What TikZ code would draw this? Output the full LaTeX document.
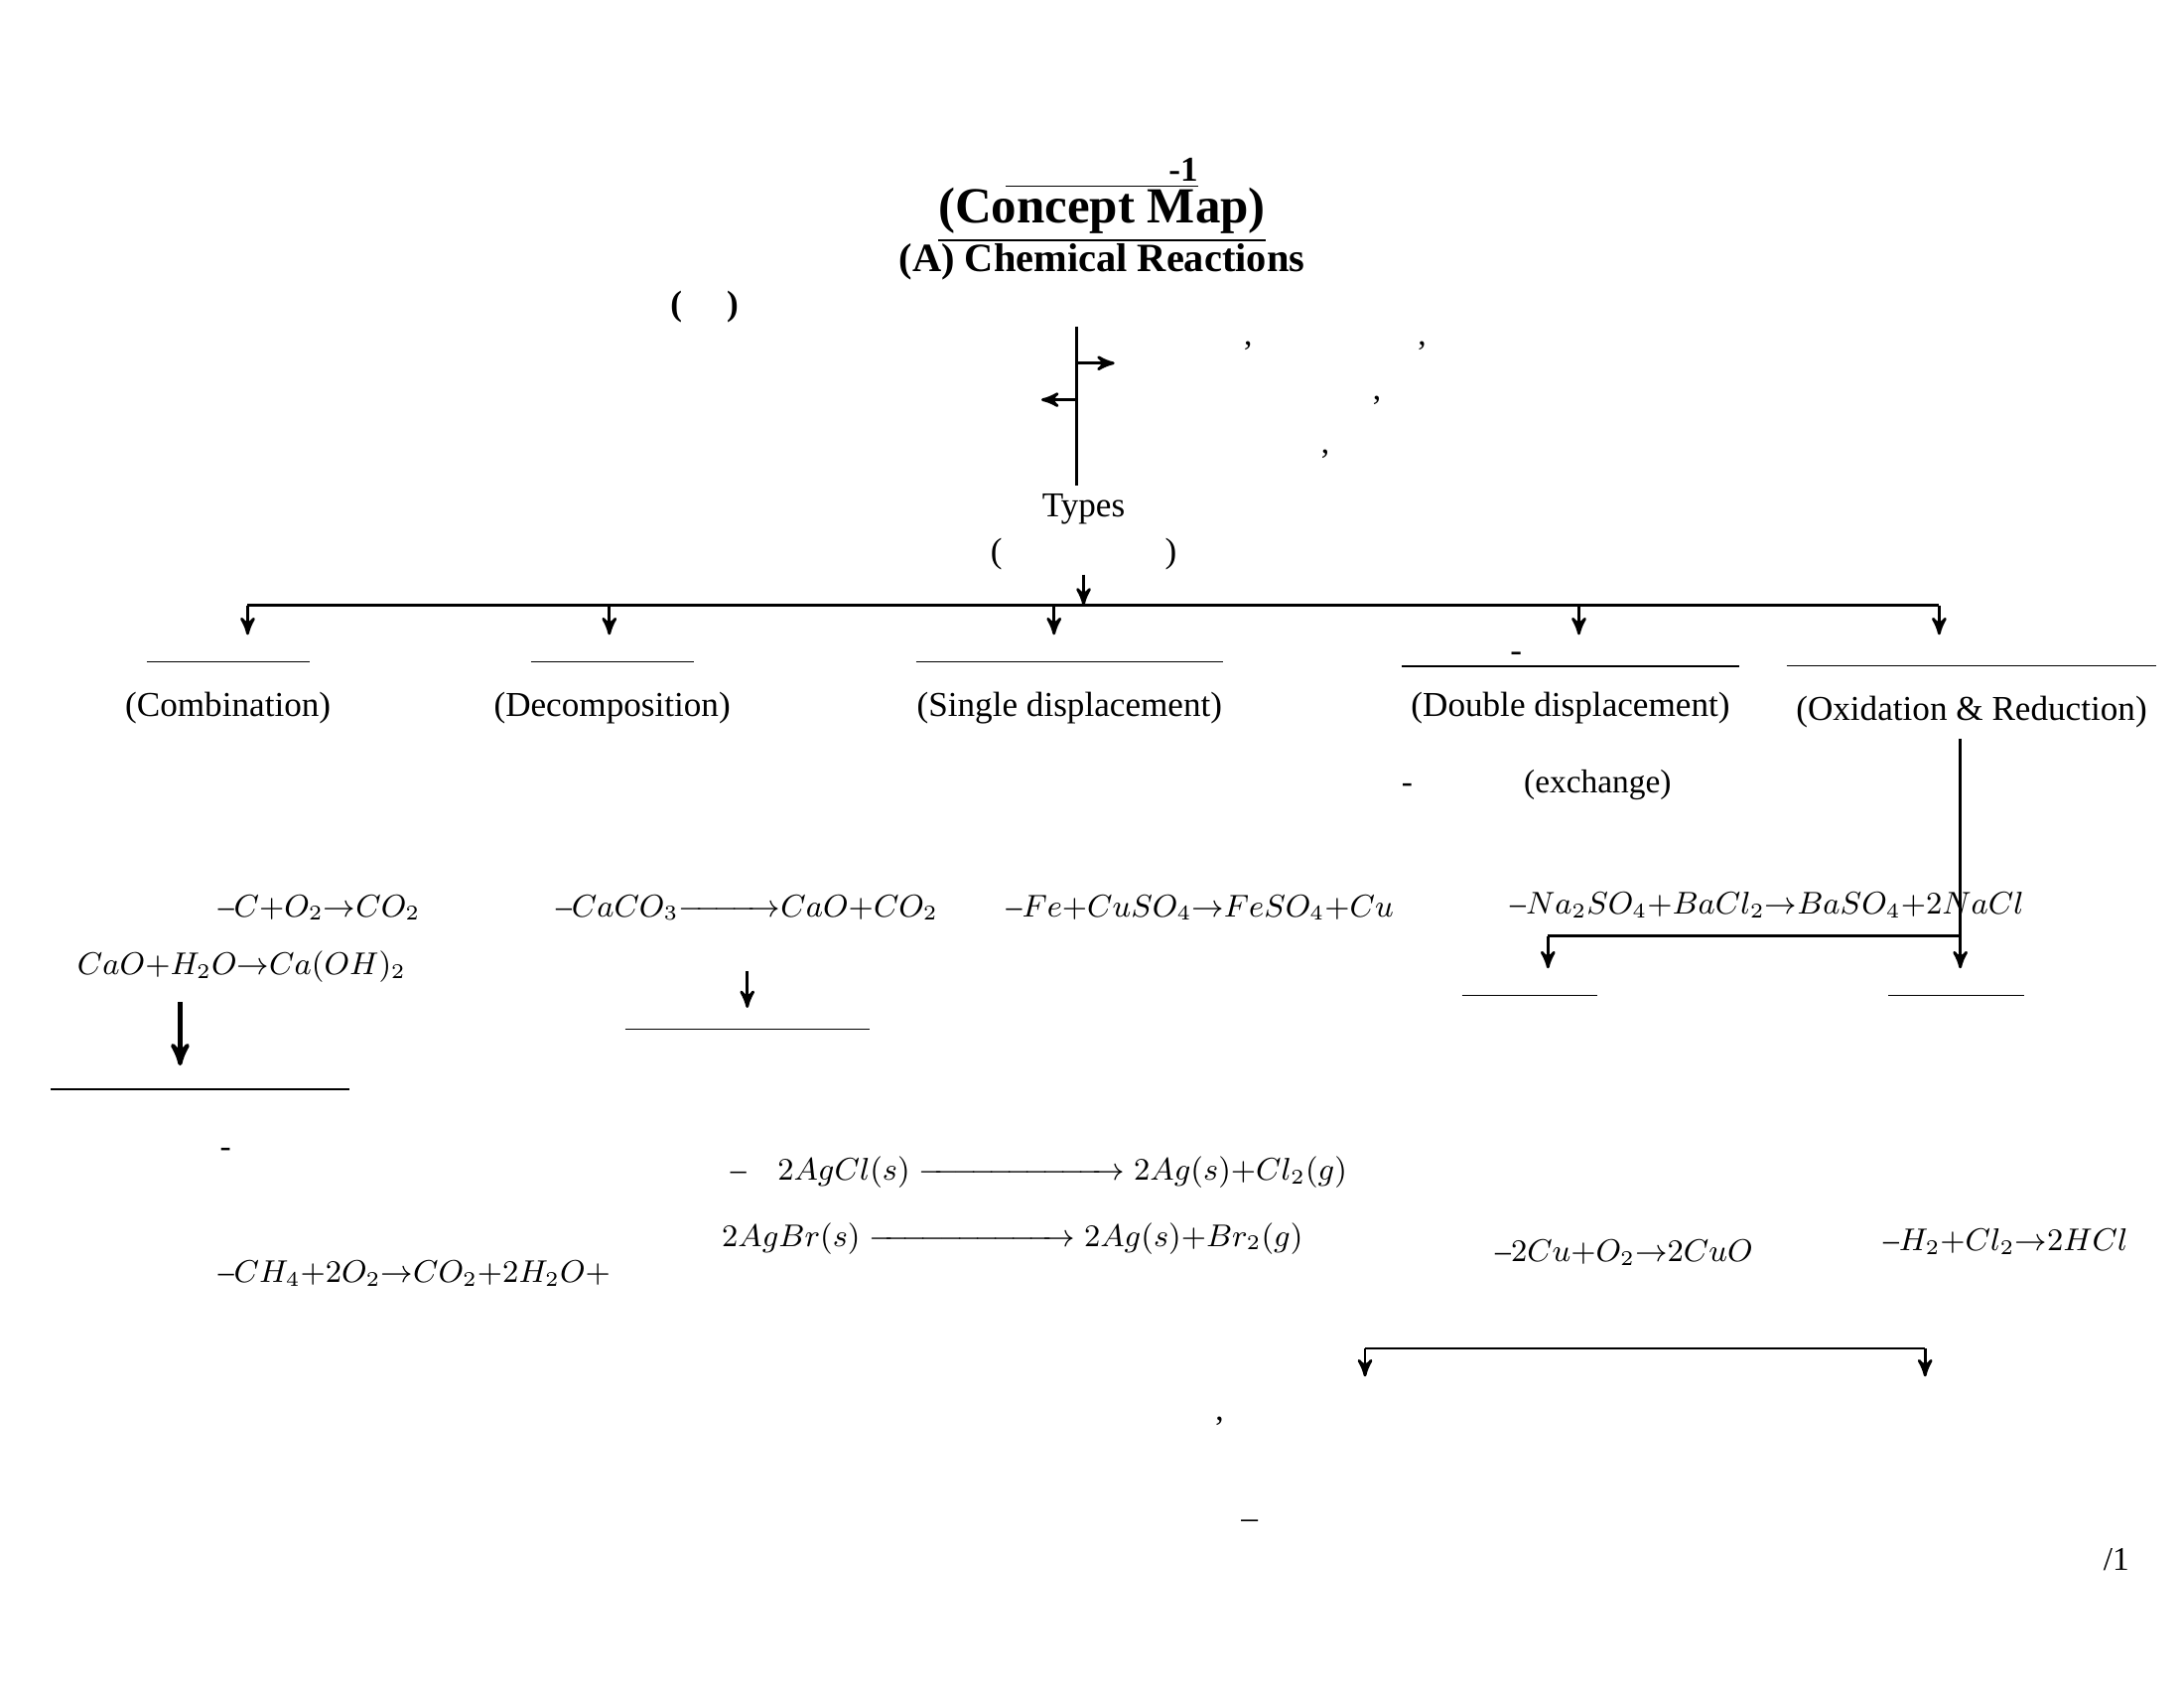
\documentclass[tikz,border=0pt]{standalone}
\usepackage{fontspec}
\setmainfont{Liberation Serif}
\usepackage{amsmath}
\usetikzlibrary{positioning, calc, arrows}

\tikzset{
    txt/.style={align=center, font=\fontsize{9.5}{15.5}\selectfont, inner sep=1pt},
    eqn/.style={txt, font=\fontsize{9}{11}\selectfont},
    head/.style={txt, font=\fontsize{10}{12}\selectfont\bfseries},
    sub/.style={txt, font=\fontsize{10}{12}\selectfont},
    arr/.style={->, >=stealth', thick},
    line/.style={thick}
}
\newcommand{\ul}[1]{\underline{#1}}

\begin{document}
\begin{tikzpicture}[x=0.01418cm, y=-0.01418cm]
    \useasboundingbox (0,0) rectangle (1552,1200);
    % title
    \node[head] (ch) at (783,123) {\ul{अध्याय-1}};
    \node[txt, font=\fontsize{14.5}{16}\selectfont\bfseries] (cm) at (783,153) {\ul{(Concept Map)}};
    \node[head, font=\fontsize{11.5}{13}\selectfont\bfseries] (cr) at (783,186) {(A) Chemical Reactions};
    \node[head] (rs) at (783,218) {( अ ) रासायनिक अभिक्रियाएँ एवं समीकरण};
    \coordinate (top) at (765,232);
    \coordinate (bot) at (765,345);
    \draw[line] (top) -- (bot);
    \coordinate (r0) at (765,258); \coordinate (r1) at (792,258);
    \coordinate (l0) at (765,284); \coordinate (l1) at (740,284);
    \draw[arr] (r0) -- (r1);
    \draw[arr] (l0) -- (l1);
    \node[txt, text width=6.6cm, anchor=north west, align=justify] (def) at (252,240)
        {जब कोई पदार्थ अकेले या किसी दूसरे पदार्थ के साथ क्रिया करके एक या एक से अधिक भिन्न गुण धर्म वाले नए पदार्थ का निर्माण करते हैं।};
    \node[txt, text width=5.3cm, align=left, anchor=north west] (sig) at (826,240)
        {रंग, अवस्था, ताप में परिवर्तन, गैस का निकलना,\\ अवक्षेप का बनना।};
    \node[sub] (ty) at (770,362) {Types};
    \node[sub] (pr) at (770,394) {(प्रकार)};
    \coordinate (pt) at (770,430);
    \draw[arr] (pr) -- (pt);
    % branches
    \coordinate (hl) at (176,430); \coordinate (hr) at (1378,430);
    \draw[line] (hl) -- (hr);
    \foreach \x/\n in {176/a, 433/b, 749/c, 1122/d, 1378/e} {
        \coordinate (s\n) at (\x,430);
        \coordinate (t\n) at (\x,451);
        \draw[arr] (s\n) -- (t\n);
    }
    \foreach \x/\n/\H/\E in {162/a/संयोजन/Combination, 435/b/वियोजन/Decomposition,
                              760/c/एकल विस्थापन/Single displacement, 1116/d/द्वि-विस्थापन/Double displacement} {
        \node[sub] (h\n) at (\x,469) {\ul{\H}};
        \node[sub] (e\n) at (\x,503) {(\E)};
    }
    \node[sub] (he) at (1401,472) {\ul{उपचयन एवं अपचयन}};
    \node[sub] (ee) at (1401,506) {(Oxidation \& Reduction)};
    \node[txt, below=2pt of ea] (da) {जब दो या दो से अधिक\\ पदार्थ संयोग करके नए\\ पदार्थ का निर्माण करते हैं।};
    \node[txt, below=2pt of eb] (db) {जब एक पदार्थ टूट कर दो\\ या दो से अधिक नए\\ पदार्थो का निर्माण करते हैं।};
    \node[txt, below=2pt of ec] (dc) {जब कोई तत्व दूसरे तत्व को उसके\\ यौगिक के विलयन से विस्थापित कर\\ खुद उसका स्थान ले लेता है।};
    \node[txt, below=2pt of ed] (dd) {जब दो यौगिक अपने आयनों की\\ अदला-बदली (exchange) करके दो\\ नए यौगिकों का निर्माण करते हैं।};
    % equations
    \node[eqn, anchor=west] (qa) at (48,645) {उदाहरण–$C{+}O_2{\rightarrow}CO_2$};
    \node[eqn, anchor=west] (qa2) at (52,687) {$CaO{+}H_2O{\rightarrow}Ca(OH)_2$};
    \node[txt, anchor=west] (bj) at (145,721) {बुझा हुआ चूना};
    \coordinate (xa) at (128,712); \coordinate (ya) at (128,757);
    \draw[arr, very thick] (xa) -- (ya);
    \node[head] (ua) at (142,773) {\ul{ऊष्माक्षेपी}};
    \node[txt, below=1pt of ua] (ta) {वैसी अभिक्रिया जिसमें उत्पाद के\\ निर्माण के साथ-साथ ऊष्मा भी\\ उत्पन्न होती है।};
    \node[eqn, anchor=west] (qa3) at (48,905) {उदाहरण–$CH_4{+}2O_2{\rightarrow}CO_2{+}2H_2O{+}$ऊष्मा};
    \node[eqn, anchor=west] (qb) at (288,645) {उदाहरण–$CaCO_3{\xrightarrow{\text{ऊष्मा}}}CaO{+}CO_2$};
    \node[txt] (kc) at (536,676) {कली चूना};
    \coordinate (xb) at (531,690); \coordinate (yb) at (531,716);
    \draw[arr] (xb) -- (yb);
    \node[head] (ub) at (531,730) {\ul{ऊष्माशोषी}};
    \node[txt, below=1pt of ub] (tb) {वैसी अभिक्रिया जिसमें ऊष्मा का\\ अवशोषण होता है।};
    \node[eqn, anchor=west] (qb2) at (412,833) {उदाहरण–\quad $2AgCl(s)\xrightarrow{\text{\tiny सूर्य का प्रकाश}}2Ag(s){+}Cl_2(g)$};
    \node[eqn, anchor=west] (qb3) at (510,880) {$2AgBr(s)\xrightarrow{\text{\tiny सूर्य का प्रकाश}}2Ag(s){+}Br_2(g)$};
    \node[eqn, anchor=west] (qc) at (608,645) {उदाहरण–$Fe{+}CuSO_4{\rightarrow}FeSO_4{+}Cu$};
    \node[eqn, anchor=west] (qd) at (966,643) {उदाहरण–$Na_2SO_4{+}BaCl_2{\rightarrow}BaSO_4{+}2NaCl$};
    % oxidation / reduction
    \coordinate (o0) at (1393,525); \coordinate (o1) at (1393,665);
    \coordinate (o2) at (1100,665); \coordinate (o3) at (1100,688);
    \coordinate (o4) at (1393,688);
    \draw[line] (o0) -- (o1) -- (o2);
    \draw[arr] (o2) -- (o3);
    \draw[arr] (o1) -- (o4);
    \node[head] (uo) at (1087,706) {\ul{उपचयन}};
    \node[txt, below=1pt of uo] (to) {जिसमें किसी तत्व या यौगिक\\ के साथ ऑक्सीजन का संयोग\\ होता है अथवा हाईड्रोजन का\\ ह्रास होता है।};
    \node[eqn] (qo) at (1102,890) {उदाहरण–$2Cu{+}O_2{\rightarrow}2CuO$};
    \node[head] (ur) at (1390,706) {\ul{अपचयन}};
    \node[txt, below=1pt of ur] (tr) {जिसमें किसी तत्व या\\ यौगिक के साथ हाइड्रोजन\\ का योग होता है अथवा\\ ऑक्सीजन का ह्रास होता है।};
    \node[eqn, anchor=east] (qr) at (1515,882) {उदाहरण–$H_2{+}Cl_2{\rightarrow}2HCl$};
    % corrosion / rancidity
    \coordinate (c0) at (970,958); \coordinate (c1) at (1368,958);
    \coordinate (c2) at (970,978); \coordinate (c3) at (1368,978);
    \draw[line] (c0) -- (c1);
    \draw[arr] (c0) -- (c2);
    \draw[arr] (c1) -- (c3);
    \node[head] (hk) at (970,998) {संक्षारण};
    \node[txt, below=1pt of hk] (tk) {धातुएँ वायु, नमी या अम्ल से अभिक्रिया\\ कर अवांछनीय पदार्थों का निर्माण करती हैं।\\ उदाहरण–लोहे में जंग लगना};
    \node[head] (hv) at (1370,1000) {विकृतगंधिता};
    \node[txt, below=1pt of hv] (tv) {जब वसा या तेल उपचयित हो जाते हैं तब\\ उनके गंध एवं स्वाद बदल जाते हैं।};
    \node[txt, anchor=east] (pg) at (1516,1108) {रसायन विज्ञान/1};
\end{tikzpicture}
\end{document}
